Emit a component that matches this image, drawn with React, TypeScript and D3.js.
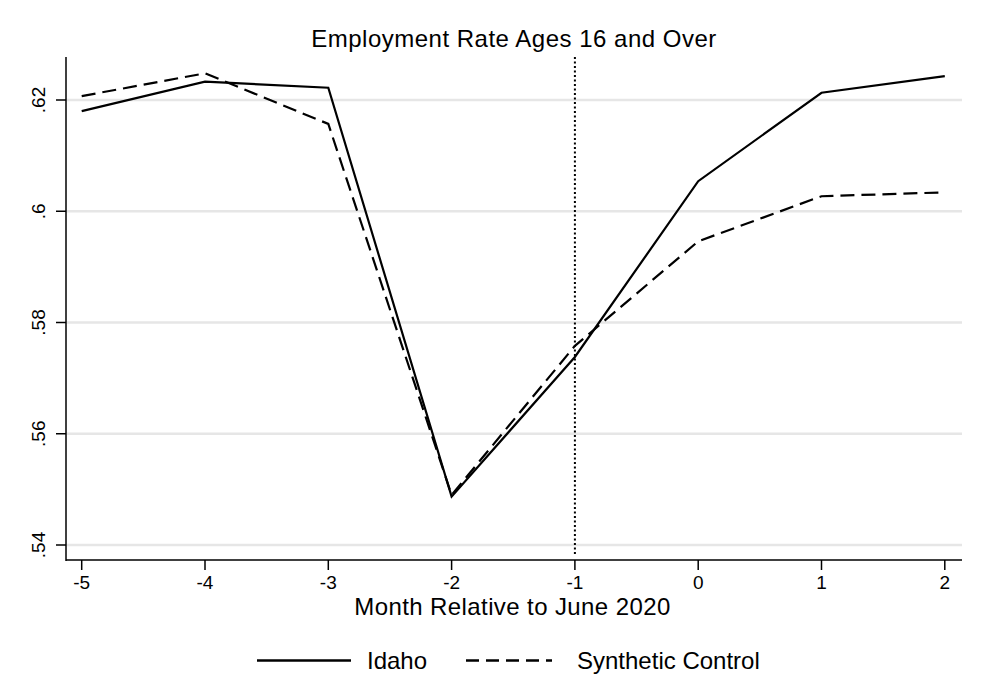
import React from "react";
import * as d3 from "d3";

const months = [-5, -4, -3, -2, -1, 0, 1, 2];
const idaho = [0.618, 0.6233, 0.6222, 0.5487, 0.5738, 0.6054, 0.6213, 0.6243];
const synthetic = [0.6207, 0.6248, 0.6157, 0.549, 0.5758, 0.5946, 0.6027, 0.6034];
const yTicks = [0.54, 0.56, 0.58, 0.6, 0.62];
const yTickLabels = [".54", ".56", ".58", ".6", ".62"];
const xTicks = [-5, -4, -3, -2, -1, 0, 1, 2];
const treatmentMonth = -1;
const title = "Employment Rate Ages 16 and Over";
const xTitle = "Month Relative to June 2020";
const seriesNames = ["Idaho", "Synthetic Control"];

const W = 986;
const H = 697;
const left = 66;
const right = 962;
const top = 57;
const bottom = 560;
const font = "Arial, 'Liberation Sans', sans-serif";

export default function App() {
  const x = d3.scaleLinear().domain([-5, 2]).range([81.7, 944.8]);
  const y = d3.scaleLinear().domain([0.54, 0.62]).range([545, 100]);

  const line = d3
    .line<number>()
    .x((_, i) => x(months[i]))
    .y((d) => y(d));

  return (
    <svg
      width={W}
      height={H}
      style={{ position: "absolute", left: 0, top: 0, background: "#fff" }}
      fontFamily={font}
    >
      <rect x={0} y={0} width={W} height={H} fill="#fff" />
      {yTicks.map((t) => (
        <line key={"g" + t} x1={left} x2={right} y1={y(t)} y2={y(t)} stroke="#e6e6e6" strokeWidth={2.5} />
      ))}
      <line
        x1={x(treatmentMonth)}
        x2={x(treatmentMonth)}
        y1={top}
        y2={bottom - 4}
        stroke="#000"
        strokeWidth={2}
        strokeDasharray="2,2.5"
      />
      <path d={line(idaho) || ""} fill="none" stroke="#000" strokeWidth={2.2} strokeLinejoin="miter" />
      <path d={line(synthetic) || ""} fill="none" stroke="#000" strokeWidth={2.2} strokeDasharray="14,7" />
      <line x1={left} x2={left} y1={top} y2={bottom + 1} stroke="#000" strokeWidth={1.5} />
      <line x1={left} x2={right} y1={bottom} y2={bottom} stroke="#000" strokeWidth={1.5} />
      {yTicks.map((t, i) => (
        <g key={"y" + t}>
          <line x1={left - 10} x2={left} y1={y(t)} y2={y(t)} stroke="#000" strokeWidth={1.5} />
          <text
            transform={`translate(${45},${y(t)}) rotate(-90)`}
            textAnchor="middle"
            fontSize={19}
            fill="#000"
          >
            {yTickLabels[i]}
          </text>
        </g>
      ))}
      {xTicks.map((t) => (
        <g key={"x" + t}>
          <line x1={x(t)} x2={x(t)} y1={bottom} y2={bottom + 10} stroke="#000" strokeWidth={1.5} />
          <text x={x(t)} y={589} textAnchor="middle" fontSize={19} fill="#000">
            {String(t)}
          </text>
        </g>
      ))}
      <text x={512.5} y={615} textAnchor="middle" fontSize={24} letterSpacing={0.4} fill="#000">
        {xTitle}
      </text>
      <text x={514} y={46.5} textAnchor="middle" fontSize={24} letterSpacing={0.5} fill="#000">
        {title}
      </text>
      <line x1={257} x2={351} y1={660.5} y2={660.5} stroke="#000" strokeWidth={2.5} />
      <text x={367} y={668.5} fontSize={24} fill="#000">
        {seriesNames[0]}
      </text>
      <line x1={466} x2={552} y1={660.5} y2={660.5} stroke="#000" strokeWidth={2.5} strokeDasharray="13,7" />
      <text x={577} y={668.5} fontSize={24} fill="#000">
        {seriesNames[1]}
      </text>
    </svg>
  );
}
